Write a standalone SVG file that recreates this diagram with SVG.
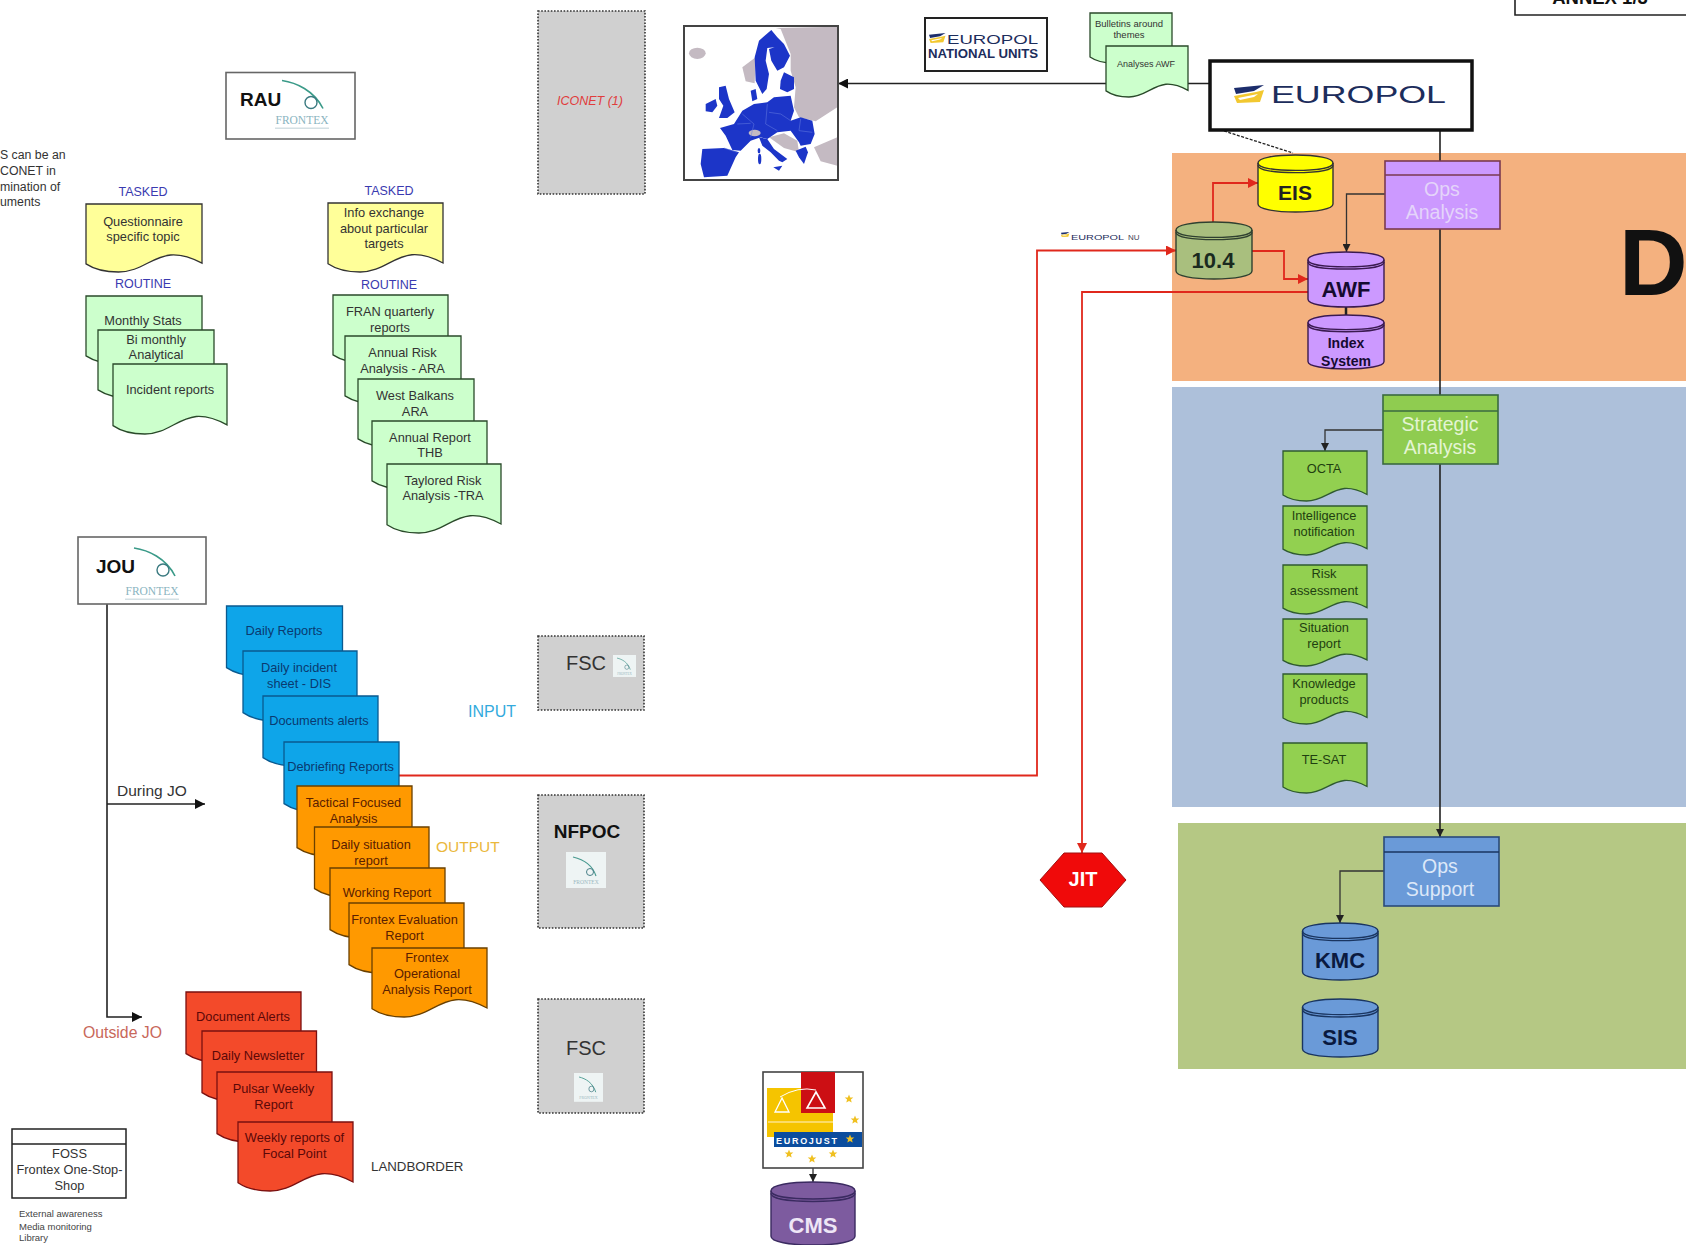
<svg xmlns="http://www.w3.org/2000/svg" width="1686" height="1245" viewBox="0 0 1686 1245">
<style>
text{font-family:"Liberation Sans",Arial,sans-serif}
.c{text-anchor:middle}
.d{font-size:12.8px;fill:#333}
.dg{font-size:12.8px;fill:#1f3f10}
.db{font-size:12.8px;fill:#0a3a70}
.do{font-size:12.8px;fill:#5a2000}
.dr{font-size:12.8px;fill:#5a0808}
.hd{font-size:12.5px;fill:#3a3ab0}
.b{font-weight:bold}
.proc{font-size:19.5px}
.ln{fill:none;stroke:#222;stroke-width:1.6}
.red{fill:none;stroke:#e0281c;stroke-width:1.8}
.thin{fill:none;stroke:#333;stroke-width:1.3}
.box{fill:#fff;stroke:#666;stroke-width:1.6}
.grey{fill:#d0d0d0;stroke:#333;stroke-width:1.6;stroke-dasharray:1.6 1.6}
.lg{fill:#ccffcc;stroke:#2a4a2a;stroke-width:1.3}
.yl{fill:#ffff99;stroke:#333;stroke-width:1.3}
.bl{fill:#0ea5e9;stroke:#0a5a90;stroke-width:1.3}
.or{fill:#ff9900;stroke:#6a4000;stroke-width:1.3}
.rd{fill:#f34a2a;stroke:#7a1010;stroke-width:1.3}
.gr{fill:#92d050;stroke:#2f5a30;stroke-width:1.3}
.cy{fill:#ffff00;stroke:#333;stroke-width:1.4}
.co{fill:#a9bf7e;stroke:#2f4030;stroke-width:1.4}
.cp{fill:#cc99ff;stroke:#3a1a50;stroke-width:1.4}
.cb{fill:#6a9ad8;stroke:#1a3560;stroke-width:1.4}
.cd{fill:#7d5b9f;stroke:#3a2a60;stroke-width:1.4}
.navy{fill:#1c2d5c}
.mapb{fill:#1c35c8}
.mapg{fill:#c4bac2}
.star{fill:#f0c020}
</style>
<defs>
<path id="doc" vector-effect="non-scaling-stroke" d="M0 0H100V87C90 78 81 74 73 75C56 78 47 100 28 100C17 100 8 97 0 88Z"/>
<g id="cyl">
<path vector-effect="non-scaling-stroke" d="M0 14C0 5 22 0 50 0S100 5 100 14V86C100 95 78 100 50 100S0 95 0 86Z"/>
<path vector-effect="non-scaling-stroke" fill="none" d="M0 14C0 23 22 27 50 27S100 23 100 14"/>
<path vector-effect="non-scaling-stroke" fill="none" d="M0 18C0 27 22 31 50 31S100 27 100 18"/>
</g>
<g id="mark">
<polygon points="0,3 30,0 20,6 2,9" fill="#1c2d6c"/>
<polygon points="0,11 22,7 30,5 26,17 3,18" fill="#f2c830"/>
<polygon points="4,13 24,9 20,12 6,15" fill="#fff"/>
</g>
<g id="swoosh">
<path d="M56 8C70 10 88 18 97 36" fill="none" stroke="#3a9a88" stroke-width="1.6"/>
<circle cx="85" cy="30" r="6" fill="none" stroke="#3a7a80" stroke-width="1.4"/>
</g>
<g id="mini">
<rect x="0" y="0" width="40" height="36" fill="#eef4f4"/>
<path d="M7 5C16 7 26 12 30 24" fill="none" stroke="#4a9a90" stroke-width="1.2"/>
<circle cx="24" cy="20" r="3.5" fill="none" stroke="#4a8088" stroke-width="1"/>
<text x="20" y="32" class="c" font-size="5.5" fill="#9ab8c0" style="font-family:'Liberation Serif',serif">FRONTEX</text>
</g>
<polygon id="s" points="0,-4.5 1.2,-1.5 4.3,-1.4 1.9,0.6 2.7,3.6 0,1.9 -2.7,3.6 -1.9,0.6 -4.3,-1.4 -1.2,-1.5"/>
<marker id="ak" viewBox="0 0 10 10" refX="10" refY="5" markerWidth="11" markerHeight="10" markerUnits="userSpaceOnUse" orient="auto"><path d="M0 0L10 5L0 10Z" fill="#111"/></marker>
<marker id="as" viewBox="0 0 10 10" refX="10" refY="5" markerWidth="8" markerHeight="8" markerUnits="userSpaceOnUse" orient="auto"><path d="M0 0L10 5L0 10Z" fill="#222"/></marker>
<marker id="ar" viewBox="0 0 10 10" refX="10" refY="5" markerWidth="10" markerHeight="10" markerUnits="userSpaceOnUse" orient="auto"><path d="M0 0L10 5L0 10Z" fill="#e0281c"/></marker>
</defs>

<rect width="1686" height="1245" fill="#fff"/>

<g id="panels">
<rect x="1172" y="153" width="514" height="228" fill="#f4b17f"/>
<rect x="1172" y="387" width="514" height="420" fill="#adc0da"/>
<rect x="1178" y="823" width="508" height="246" fill="#b5c884"/>
<text x="1619" y="295" font-size="95" font-weight="bold" fill="#111">D</text>
</g>

<g id="connectors">
<path class="ln" d="M1210 83.500H838" marker-end="url(#ak)"/>
<path d="M1224 131L1293 153" fill="none" stroke="#222" stroke-width="1.3" stroke-dasharray="3 1.5"/>
<path class="ln" d="M1440 130V161M1440 229V396M1440 464V837" marker-end="url(#as)"/>
<path class="thin" d="M1385 194H1346.500V252" marker-end="url(#as)"/>
<path d="M1346 307V315" fill="none" stroke="#222" stroke-width="2.500"/>
<path class="thin" d="M1383 430H1325V451" marker-end="url(#as)"/>
<path class="thin" d="M1384 871H1340V923" marker-end="url(#as)"/>
<path class="red" d="M1213 222V183H1258" marker-end="url(#ar)"/>
<path class="red" d="M1252 251H1284V279H1308" marker-end="url(#ar)"/>
<path class="red" d="M399 775.500H1037V250.500H1176" marker-end="url(#ar)"/>
<path class="red" d="M1308 292H1082V853" marker-end="url(#ar)"/>
<path class="ln" d="M107 604V1017H142" stroke-width="1.8" marker-end="url(#ak)"/>
<path class="ln" d="M107 804H205" stroke-width="1.8" marker-end="url(#ak)"/>
<path class="thin" d="M813 1168V1182" marker-end="url(#as)"/>
</g>

<g id="note">
<text x="0" y="159" font-size="12.300" fill="#333">S can be an</text>
<text x="0" y="175" font-size="12.300" fill="#333">CONET in</text>
<text x="0" y="191" font-size="12.300" fill="#333">mination of</text>
<text x="0" y="206" font-size="12.300" fill="#333">uments</text>
</g>

<g id="rau">
<rect class="box" x="226" y="72.500" width="129" height="66.500"/>
<text x="240" y="106" font-size="19" font-weight="bold" fill="#111">RAU</text>
<use href="#swoosh" transform="translate(226 72.500)"/>
<text x="302" y="124" class="c" font-size="11.500" fill="#8ab4c0" style="font-family:'Liberation Serif',serif">FRONTEX</text>
<rect x="275" y="127.500" width="54" height="1.500" fill="#d4e0e4"/>
</g>

<g id="labels-rau">
<text x="143" y="196" class="c hd">TASKED</text>
<text x="143" y="288" class="c hd">ROUTINE</text>
<text x="389" y="195" class="c hd">TASKED</text>
<text x="389" y="289" class="c hd">ROUTINE</text>
</g>

<g id="doc-questionnaire"><use href="#doc" class="yl" transform="translate(86 204) scale(1.16 .68)"/>
<text class="c d" x="143" y="226">Questionnaire</text><text class="c d" x="143" y="241">specific topic</text></g>
<g id="doc-info"><use href="#doc" class="yl" transform="translate(328 203) scale(1.15 .69)"/>
<text class="c d" x="384" y="217">Info exchange</text><text class="c d" x="384" y="233">about particular</text><text class="c d" x="384" y="248">targets</text></g>

<g id="doc-monthly"><use href="#doc" class="lg" transform="translate(86 296) scale(1.16 .68)"/>
<text class="c d" x="143" y="325">Monthly Stats</text></g>
<g id="doc-bimonthly"><use href="#doc" class="lg" transform="translate(98 330) scale(1.16 .68)"/>
<text class="c d" x="156" y="344">Bi monthly</text><text class="c d" x="156" y="359">Analytical</text></g>
<g id="doc-incident"><use href="#doc" class="lg" transform="translate(113 364) scale(1.14 .70)"/>
<text class="c d" x="170" y="394">Incident reports</text></g>

<g id="doc-fran"><use href="#doc" class="lg" transform="translate(333 295) scale(1.15 .68)"/>
<text class="c d" x="390" y="316">FRAN quarterly</text><text class="c d" x="390" y="332">reports</text></g>
<g id="doc-ara"><use href="#doc" class="lg" transform="translate(345 336) scale(1.16 .68)"/>
<text class="c d" x="402.500" y="357">Annual Risk</text><text class="c d" x="402.500" y="373">Analysis - ARA</text></g>
<g id="doc-wb"><use href="#doc" class="lg" transform="translate(358 379) scale(1.16 .68)"/>
<text class="c d" x="415" y="400">West Balkans</text><text class="c d" x="415" y="416">ARA</text></g>
<g id="doc-thb"><use href="#doc" class="lg" transform="translate(372 421) scale(1.15 .68)"/>
<text class="c d" x="430" y="442">Annual Report</text><text class="c d" x="430" y="457">THB</text></g>
<g id="doc-tra"><use href="#doc" class="lg" transform="translate(387 464) scale(1.14 .69)"/>
<text class="c d" x="443" y="485">Taylored Risk</text><text class="c d" x="443" y="500">Analysis -TRA</text></g>

<g id="iconet">
<rect class="grey" x="538" y="11" width="107" height="183"/>
<text class="c" x="590" y="105" font-size="12.500" font-style="italic" fill="#e03c3c">ICONET (1)</text>
</g>

<g id="map">
<rect x="684" y="26" width="154" height="154" fill="#fff"/>
<g transform="translate(684 24) scale(.3333)">
<polygon class="mapg" points="275,12 460,8 460,250 395,292 345,280 330,250 335,190 320,140 320,90 290,15"/>
<polygon class="mapg" points="390,370 460,340 460,425 410,412"/>
<polygon class="mapg" points="175,130 215,100 212,178 185,172"/>
<polygon class="mapg" points="255,340 300,328 340,350 345,385 300,372"/>
<ellipse class="mapg" cx="40" cy="88" rx="25" ry="17"/>
<polygon class="mapb" points="262,18 280,40 300,60 318,95 300,130 280,140 262,110 255,75 272,70 250,72 245,110 255,150 248,195 235,210 215,170 212,100 225,50"/>
<polygon class="mapb" points="300,145 330,160 330,195 310,205 288,195 290,170"/>
<polygon class="mapb" points="200,200 215,195 220,225 205,232"/>
<polygon class="mapb" points="105,190 125,185 135,225 152,265 130,282 105,282 118,245 105,225"/>
<polygon class="mapb" points="65,240 95,225 100,245 85,265 65,262"/>
<polygon class="mapb" points="108,312 150,300 175,260 210,240 250,235 270,220 320,215 330,260 320,290 350,280 385,290 392,330 380,360 350,365 345,355 320,320 280,325 250,345 230,340 200,350 170,380 145,378 125,335"/>
<polygon class="mapb" points="225,340 250,345 270,375 310,405 295,415 285,410 260,385 235,365"/>
<polygon class="mapb" points="268,430 295,425 285,440"/>
<ellipse class="mapb" cx="227" cy="405" rx="5" ry="16"/>
<ellipse class="mapb" cx="225" cy="380" rx="4" ry="8"/>
<polygon class="mapb" points="335,380 365,368 372,385 360,420 345,400"/>
<polygon class="mapb" points="55,375 120,372 165,385 155,400 130,455 60,460 50,420"/>
<ellipse class="mapg" cx="212" cy="327" rx="18" ry="10"/>
<path d="M175 270L210 300 200 340M250 240L245 300 280 320M320 290L290 270 255 265M160 300L200 298M350 285L345 320 385 325M120 372L160 385" fill="none" stroke="#6a80e0" stroke-width="1.500"/>
</g>
<rect x="684" y="26" width="154" height="154" fill="none" stroke="#444" stroke-width="2"/>
</g>

<g id="national-units">
<rect x="925" y="18" width="122" height="53" fill="#fff" stroke="#222" stroke-width="2"/>
<use href="#mark" transform="translate(929 33) scale(.55)"/>
<text x="947" y="44" font-size="13.500" textLength="91" lengthAdjust="spacingAndGlyphs" class="navy">EUROPOL</text>
<text x="928" y="58" font-size="13.200" font-weight="bold" class="navy">NATIONAL UNITS</text>
</g>

<g id="annex">
<path d="M1515 0V15H1686" fill="#fff" stroke="#222" stroke-width="1.600"/>
<text x="1600" y="4" class="c" font-size="18.500" font-weight="bold" fill="#111">ANNEX 1/3</text>
</g>

<g id="doc-bulletins"><use href="#doc" class="lg" transform="translate(1090 13) scale(.82 .50)"/>
<text class="c" x="1129" y="27" font-size="9.500" fill="#333">Bulletins around</text><text class="c" x="1129" y="38" font-size="9.500" fill="#333">themes</text></g>
<g id="doc-analyses"><use href="#doc" class="lg" transform="translate(1106 46) scale(.82 .51)"/>
<text class="c" x="1146" y="67" font-size="9" fill="#333">Analyses AWF</text></g>

<g id="europol">
<rect x="1210" y="61" width="262" height="69" fill="#fff" stroke="#111" stroke-width="3.500"/>
<use href="#mark" transform="translate(1234 85)"/>
<text x="1271" y="103" font-size="24" textLength="175" lengthAdjust="spacingAndGlyphs" class="navy">EUROPOL</text>
</g>

<g id="eis"><use href="#cyl" class="cy" transform="translate(1258 155) scale(.75 .57)"/>
<text class="c b" x="1295" y="200" font-size="21" fill="#222">EIS</text></g>
<g id="db-104"><use href="#cyl" class="co" transform="translate(1176 222) scale(.76 .57)"/>
<text class="c b" x="1213" y="268" font-size="22" fill="#1a2a20">10.4</text></g>
<g id="awf"><use href="#cyl" class="cp" transform="translate(1308 252) scale(.76 .55)"/>
<text class="c b" x="1346" y="297" font-size="22" fill="#150a30">AWF</text></g>
<g id="index-system"><use href="#cyl" class="cp" transform="translate(1308 315) scale(.76 .54)"/>
<text class="c b" x="1346" y="348" font-size="14" fill="#150a30">Index</text><text class="c b" x="1346" y="366" font-size="14" fill="#150a30">System</text></g>

<g id="ops-analysis">
<rect x="1385" y="161" width="115" height="68" fill="#cc99ff" stroke="#7a3a50" stroke-width="1.600"/>
<path d="M1385 175H1500" stroke="#7a3a50" stroke-width="1.600"/>
<text class="c proc" x="1442" y="196" fill="#e4d4fa">Ops</text><text class="c proc" x="1442" y="219" fill="#e4d4fa">Analysis</text>
</g>
<g id="strategic-analysis">
<rect x="1383" y="395" width="115" height="69" fill="#8fcc50" stroke="#3a6a40" stroke-width="1.600"/>
<path d="M1383 411H1498" stroke="#3a6a40" stroke-width="1.600"/>
<text class="c proc" x="1440" y="431" fill="#e4f4d4">Strategic</text><text class="c proc" x="1440" y="454" fill="#e4f4d4">Analysis</text>
</g>
<g id="ops-support">
<rect x="1384" y="837" width="115" height="69" fill="#6a9ad8" stroke="#2a4a7a" stroke-width="1.600"/>
<path d="M1384 852H1499" stroke="#1a3560" stroke-width="1.600"/>
<text class="c proc" x="1440" y="873" fill="#dce8f8">Ops</text><text class="c proc" x="1440" y="896" fill="#dce8f8">Support</text>
</g>

<g id="doc-octa"><use href="#doc" class="gr" transform="translate(1283 451) scale(.84 .50)"/>
<text class="c dg" x="1324" y="473">OCTA</text></g>
<g id="doc-intel"><use href="#doc" class="gr" transform="translate(1283 506) scale(.84 .49)"/>
<text class="c dg" x="1324" y="520">Intelligence</text><text class="c dg" x="1324" y="536">notification</text></g>
<g id="doc-risk"><use href="#doc" class="gr" transform="translate(1283 565) scale(.84 .49)"/>
<text class="c dg" x="1324" y="578">Risk</text><text class="c dg" x="1324" y="595">assessment</text></g>
<g id="doc-situation"><use href="#doc" class="gr" transform="translate(1283 619) scale(.84 .47)"/>
<text class="c dg" x="1324" y="632">Situation</text><text class="c dg" x="1324" y="648">report</text></g>
<g id="doc-knowledge"><use href="#doc" class="gr" transform="translate(1283 674) scale(.84 .50)"/>
<text class="c dg" x="1324" y="688">Knowledge</text><text class="c dg" x="1324" y="704">products</text></g>
<g id="doc-tesat"><use href="#doc" class="gr" transform="translate(1283 743) scale(.84 .50)"/>
<text class="c dg" x="1324" y="764">TE-SAT</text></g>

<g id="kmc"><use href="#cyl" class="cb" transform="translate(1302.500 923) scale(.755 .57)"/>
<text class="c b" x="1340" y="968" font-size="22" fill="#0a1a40">KMC</text></g>
<g id="sis"><use href="#cyl" class="cb" transform="translate(1302.500 999) scale(.755 .58)"/>
<text class="c b" x="1340" y="1045" font-size="22" fill="#0a1a40">SIS</text></g>

<g id="jit">
<polygon points="1040,880 1064,853 1102,853 1126,880 1102,907 1064,907" fill="#f00a0a" stroke="#a01010" stroke-width="1"/>
<text class="c b" x="1083" y="886" font-size="20" fill="#fff">JIT</text>
</g>

<g id="nu-label">
<use href="#mark" transform="translate(1061 232) scale(.28)"/>
<text x="1071" y="240" font-size="8" textLength="53" lengthAdjust="spacingAndGlyphs" class="navy">EUROPOL</text>
<text x="1128" y="240" font-size="8" fill="#445">NU</text>
</g>

<g id="eurojust">
<rect x="763" y="1072" width="100" height="96" fill="#fff" stroke="#444" stroke-width="1.600"/>
<rect x="767" y="1088" width="66" height="49" fill="#f5c400"/>
<rect x="801" y="1072" width="34" height="41" fill="#cc0f14"/>
<path d="M780 1097Q798 1086 816 1090" fill="none" stroke="#fff" stroke-width="1"/>
<polygon points="782,1098 775,1112 789,1112" fill="none" stroke="#fff" stroke-width="1.300"/>
<polygon points="816,1092 807,1108 825,1108" fill="none" stroke="#fff" stroke-width="1.600"/>
<path d="M768 1122H833" stroke="#fde48a" stroke-width="1.500"/>
<rect x="774" y="1132" width="88" height="15" fill="#0b4d9e"/>
<text x="776" y="1143.500" font-size="9" font-weight="bold" textLength="61" fill="#fff">EUROJUST</text>
<use href="#s" class="star" transform="translate(849 1099)"/>
<use href="#s" class="star" transform="translate(855 1120)"/>
<use href="#s" class="star" transform="translate(850 1139)"/>
<use href="#s" class="star" transform="translate(789 1154)"/>
<use href="#s" class="star" transform="translate(812 1159)"/>
<use href="#s" class="star" transform="translate(833 1154)"/>
</g>
<g id="cms"><use href="#cyl" class="cd" transform="translate(771 1182) scale(.84 .63)"/>
<text class="c b" x="813" y="1233" font-size="22" fill="#eee6f6">CMS</text></g>

<g id="jou">
<rect class="box" x="78" y="537" width="128" height="67"/>
<text x="96" y="573" font-size="19" font-weight="bold" fill="#111">JOU</text>
<use href="#swoosh" transform="translate(78 540)"/>
<text x="152" y="595" class="c" font-size="11.500" fill="#8ab4c0" style="font-family:'Liberation Serif',serif">FRONTEX</text>
<rect x="125" y="598.500" width="54" height="1.500" fill="#d4e0e4"/>
</g>
<g id="jo-labels">
<text x="117" y="796" font-size="15.500" fill="#333">During JO</text>
<text x="83" y="1038" font-size="15.800" fill="#c8685a">Outside JO</text>
<text x="468" y="717" font-size="16" fill="#33aadd">INPUT</text>
<text x="436" y="852" font-size="15.500" fill="#eab83c">OUTPUT</text>
<text x="371" y="1171" font-size="13.300" fill="#333">LANDBORDER</text>
</g>

<g id="fsc-input">
<rect class="grey" x="538" y="636" width="106" height="74"/>
<text class="c" x="586" y="670" font-size="20" fill="#333">FSC</text>
<use href="#mini" transform="translate(613 655) scale(.575 .61)"/>
</g>
<g id="nfpoc">
<rect class="grey" x="538" y="795" width="106" height="133"/>
<text class="c b" x="587" y="838" font-size="19" fill="#111">NFPOC</text>
<use href="#mini" transform="translate(566 852)"/>
</g>
<g id="fsc-lower">
<rect class="grey" x="538" y="999" width="106" height="114"/>
<text class="c" x="586" y="1055" font-size="20" fill="#333">FSC</text>
<use href="#mini" transform="translate(574 1073) scale(.725 .8)"/>
</g>

<g id="doc-daily-reports"><use href="#doc" class="bl" transform="translate(226.500 606) scale(1.16 .70)"/>
<text class="c db" x="284" y="635">Daily Reports</text></g>
<g id="doc-dis"><use href="#doc" class="bl" transform="translate(243 651) scale(1.14 .70)"/>
<text class="c db" x="299" y="672">Daily incident</text><text class="c db" x="299" y="688">sheet - DIS</text></g>
<g id="doc-alerts"><use href="#doc" class="bl" transform="translate(263 696) scale(1.15 .70)"/>
<text class="c db" x="319" y="725">Documents alerts</text></g>
<g id="doc-debriefing"><use href="#doc" class="bl" transform="translate(284 742) scale(1.15 .70)"/>
<text class="c db" x="340.500" y="771">Debriefing Reports</text></g>

<g id="doc-tactical"><use href="#doc" class="or" transform="translate(297 786) scale(1.15 .70)"/>
<text class="c do" x="353.500" y="807">Tactical Focused</text><text class="c do" x="353.500" y="823">Analysis</text></g>
<g id="doc-daily-situation"><use href="#doc" class="or" transform="translate(314.500 827) scale(1.145 .70)"/>
<text class="c do" x="371" y="849">Daily situation</text><text class="c do" x="371" y="865">report</text></g>
<g id="doc-working"><use href="#doc" class="or" transform="translate(330 868) scale(1.15 .70)"/>
<text class="c do" x="387" y="897">Working Report</text></g>
<g id="doc-evaluation"><use href="#doc" class="or" transform="translate(349 903) scale(1.15 .70)"/>
<text class="c do" x="404.500" y="924">Frontex Evaluation</text><text class="c do" x="404.500" y="940">Report</text></g>
<g id="doc-operational"><use href="#doc" class="or" transform="translate(372 948) scale(1.15 .69)"/>
<text class="c do" x="427" y="962">Frontex</text><text class="c do" x="427" y="978">Operational</text><text class="c do" x="427" y="994">Analysis Report</text></g>

<g id="doc-document-alerts"><use href="#doc" class="rd" transform="translate(186 992) scale(1.15 .70)"/>
<text class="c dr" x="243" y="1021">Document Alerts</text></g>
<g id="doc-newsletter"><use href="#doc" class="rd" transform="translate(202 1031) scale(1.145 .70)"/>
<text class="c dr" x="258" y="1060">Daily Newsletter</text></g>
<g id="doc-pulsar"><use href="#doc" class="rd" transform="translate(217 1072) scale(1.15 .70)"/>
<text class="c dr" x="273.500" y="1093">Pulsar Weekly</text><text class="c dr" x="273.500" y="1109">Report</text></g>
<g id="doc-focal"><use href="#doc" class="rd" transform="translate(238 1122) scale(1.15 .69)"/>
<text class="c dr" x="294.500" y="1142">Weekly reports of</text><text class="c dr" x="294.500" y="1158">Focal Point</text></g>

<g id="foss">
<rect x="12" y="1129" width="114" height="69" fill="#fff" stroke="#222" stroke-width="1.500"/>
<path d="M12 1144H126" stroke="#222" stroke-width="1.500"/>
<text class="c d" x="69.500" y="1158">FOSS</text><text class="c d" x="69.500" y="1174">Frontex One-Stop-</text><text class="c d" x="69.500" y="1190">Shop</text>
</g>
<g id="foss-note">
<text x="19" y="1217" font-size="9.500" fill="#444">External awareness</text>
<text x="19" y="1230" font-size="9.500" fill="#444">Media monitoring</text>
<text x="19" y="1241" font-size="9.500" fill="#444">Library</text>
</g>
</svg>
